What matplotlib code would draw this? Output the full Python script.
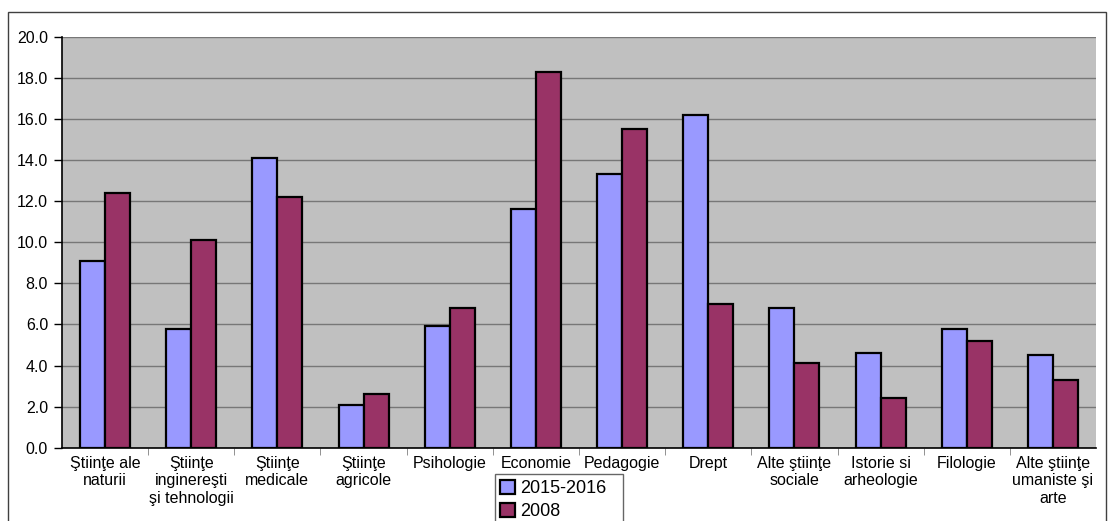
import numpy as np
import matplotlib
matplotlib.use('Agg')
import matplotlib.pyplot as plt
from matplotlib.patches import Rectangle

plt.rcParams['font.family'] = ['Liberation Sans', 'DejaVu Sans']

categories = ['Ştiinţe ale\nnaturii', 'Ştiinţe\ninginereşti\nşi tehnologii', 'Ştiinţe\nmedicale',
              'Ştiinţe\nagricole', 'Psihologie', 'Economie', 'Pedagogie', 'Drept',
              'Alte ştiinţe\nsociale', 'Istorie si\narheologie', 'Filologie',
              'Alte ştiinţe\numaniste şi\narte']
values_2015 = [9.1, 5.8, 14.1, 2.1, 5.9, 11.6, 13.3, 16.2, 6.8, 4.6, 5.8, 4.5]
values_2008 = [12.4, 10.1, 12.2, 2.6, 6.8, 18.3, 15.5, 7.0, 4.1, 2.4, 5.2, 3.3]
series_names = ['2015-2016', '2008']
y_ticks = np.arange(0, 20.1, 2.0)

W, H = 1111, 521
fig = plt.figure(figsize=(W / 100, H / 100), dpi=100)

# outer chart border
fig.patches.append(Rectangle((8 / W, -0.05), 1098 / W, 1 - 12 / H + 0.05,
                             transform=fig.transFigure, fill=False,
                             edgecolor='#404040', linewidth=1))

ax = fig.add_axes([62 / W, (H - 447.7) / H, (1096 - 62) / W, (447.7 - 36.7) / H])
ax.set_facecolor('#C0C0C0')

x = np.arange(len(categories))
bw = 0.29
ax.bar(x - bw / 2, values_2015, width=bw, color='#9999FF', edgecolor='black',
       linewidth=1.6, label=series_names[0], zorder=3)
ax.bar(x + bw / 2, values_2008, width=bw, color='#993366', edgecolor='black',
       linewidth=1.6, label=series_names[1], zorder=3)

ax.set_xlim(-0.5, len(categories) - 0.5)
ax.set_ylim(0, 20)
ax.set_yticks(y_ticks)
ax.set_yticklabels([f'{v:.1f}' for v in y_ticks], fontsize=11.5)
ax.yaxis.grid(True, color='#777777', linewidth=1, zorder=0)
ax.set_axisbelow(True)

ax.set_xticks(x)
ax.set_xticklabels(categories, fontsize=11.5, linespacing=1.2, va='top')
ax.tick_params(axis='x', length=0, pad=6)
ax.set_xticks(np.arange(0.5, len(categories) - 0.5, 1), minor=True)
ax.tick_params(axis='x', which='minor', length=5, color='#808080')
ax.tick_params(axis='y', length=6, width=1, pad=4)

for s in ['top', 'right']:
    ax.spines[s].set_visible(False)
ax.spines['left'].set_linewidth(1.2)
ax.spines['bottom'].set_linewidth(1.2)

# legend box roughly 495..623 px wide, hanging below the axis
leg = fig.legend(loc='upper left', bbox_to_anchor=(495 / W, 1 - 474.3 / H, 128 / W, 0),
                 mode='expand', fontsize=13, frameon=True, fancybox=False,
                 handlelength=0.8, handleheight=0.8, handletextpad=0.3,
                 borderpad=0.3, labelspacing=0.35, borderaxespad=0)
leg.get_frame().set_edgecolor('#404040')
leg.get_frame().set_linewidth(1)

fig.savefig('out.png', dpi=100)
